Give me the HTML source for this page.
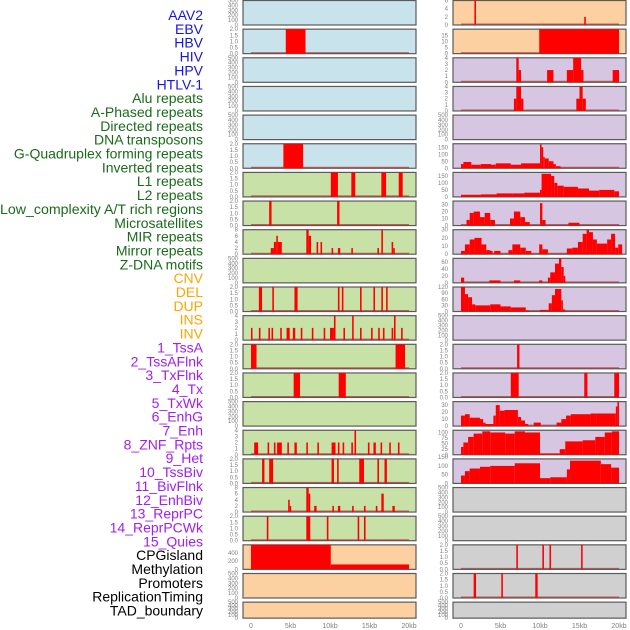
<!DOCTYPE html>
<html><head><meta charset="utf-8"><style>
html,body{margin:0;padding:0;background:#fff;width:630px;height:630px;overflow:hidden}
svg{display:block;font-family:"Liberation Sans",sans-serif}
</style></head><body>
<svg id="chart" width="630" height="630" viewBox="0 0 630 630"></svg>
<script>
const labels=["AAV2","EBV","HBV","HIV","HPV","HTLV-1","Alu repeats","A-Phased repeats","Directed repeats","DNA transposons","G-Quadruplex forming repeats","Inverted repeats","L1 repeats","L2 repeats","Low_complexity A/T rich regions","Microsatellites","MIR repeats","Mirror repeats","Z-DNA motifs","CNV","DEL","DUP","INS","INV","1_TssA","2_TssAFlnk","3_TxFlnk","4_Tx","5_TxWk","6_EnhG","7_Enh","8_ZNF_Rpts","9_Het","10_TssBiv","11_BivFlnk","12_EnhBiv","13_ReprPC","14_ReprPCWk","15_Quies","CPGisland","Methylation","Promoters","ReplicationTiming","TAD_boundary"];
const labelGroups=[6,13,5,15,5];
const groupColors=["#1515e6","#1a6b1a","#ffa500","#a020f0","#000000"];
const xTicks=[0,5000,10000,15000,20000];
const xTickLabels=["0","5kb","10kb","15kb","20kb"];
const leftMax=[500,2,500,500,500,2,2,2,8,500,2,4,2,2,500,4,2,8,2,600,500,500];
const rightMax=[6,20,4,4,500,175,175,35,30,70,120,500,2,2,35,110,140,500,500,2,2,500];
const leftBars=[
[],[[4.4,6.9,2]],[],[],[],[[4.1,6.6,2]],
[[10.1,11.0,2],[12.7,13.2,2],[16.5,17.1,2],[18.7,19.2,2]],
[[2.3,2.6,2],[10.9,11.2,2]],
[[2.5,2.9,2],[2.9,3.2,4],[3.2,3.4,6],[3.4,3.9,4],[7.0,7.3,8],[7.3,7.6,6],[8.3,8.5,4],[8.8,9.0,4],[10.2,10.4,2],[11.0,11.3,2],[12.7,12.9,2],[16.0,16.2,2],[16.5,16.7,8],[17.8,18.0,4],[18.0,18.2,2]],
[],
[[1.0,1.4,2],[2.7,2.9,2],[5.5,5.9,2],[11.0,11.2,2],[11.5,11.7,2],[13.8,14.0,2],[15.5,15.7,2],[16.5,16.7,2],[17.1,17.3,2]],
[[0,0.1,2],[1.0,1.2,2],[2.2,2.4,2],[2.6,2.8,2],[3.7,3.9,2],[4.5,4.9,2],[5.3,5.6,2],[6.3,6.5,2],[7.7,7.9,2],[9.2,9.4,2],[10.0,10.5,2],[10.5,10.7,4],[11.7,11.9,2],[12.8,13.0,4],[13.8,14.0,2],[15.2,15.4,2],[16.1,16.3,2],[16.7,16.9,2],[17.8,18.0,2],[18.1,18.3,4],[19.0,19.2,2]],
[[0,0.7,2],[18.3,19.5,2]],
[[5.4,6.2,2],[11.1,12.0,2]],
[],
[[0.4,0.9,2],[2.1,2.3,2],[2.9,3.1,2],[3.3,3.9,2],[4.6,4.8,2],[5.5,5.8,2],[7.0,7.2,2],[8.4,8.6,2],[10.2,10.7,2],[11.0,11.2,2],[11.6,11.8,2],[12.7,12.9,2],[13.1,13.3,4],[14.8,15.0,2],[15.5,15.8,2],[16.4,16.6,2],[17.5,17.7,2],[18.6,18.8,2]],
[[1.4,1.7,2],[2.3,2.8,2],[10.2,10.5,2],[10.9,11.1,2],[13.7,14.3,2],[16.0,16.2,2],[16.9,17.2,2]],
[[4.7,4.9,4],[4.9,5.0,2],[7.0,7.3,8],[7.3,7.5,6],[8.0,8.3,2],[10.3,10.5,2],[11.0,11.3,2],[12.8,13.0,2],[14.3,14.5,2],[15.8,16.0,2],[16.5,16.8,6],[17.9,18.2,2]],
[[2.0,2.2,2],[7.0,7.5,2],[9.6,9.8,2],[13.5,13.7,2],[14.3,14.5,2]],
[[0,10.1,600],[10.1,20,120]],
[],[]
];
const rightBars=[
[[1.7,1.9,6],[15.6,15.8,2]],
[[9.9,20,20]],
[[7.0,7.3,4],[7.3,7.6,2],[10.9,11.7,2],[13.4,14.2,2],[14.2,15.2,4],[15.2,15.5,2],[19.2,20,2]],
[[6.7,7.0,2],[7.0,7.6,4],[7.6,7.9,2],[14.6,15.0,2],[15.0,15.4,4],[15.4,15.8,2]],
[],
[[0,0.3,30],[0.3,1.3,45],[1.3,2.5,25],[2.5,3.8,30],[3.8,4.4,25],[4.4,6.3,35],[6.3,7.6,25],[7.6,10.0,35],[10.0,10.2,170],[10.2,10.4,150],[10.4,10.6,80],[10.6,11.1,70],[11.1,11.7,50],[11.7,12.0,30],[12.0,12.6,15]],
[[0,2.5,15],[2.5,4.5,18],[4.5,6.5,25],[6.5,8,25],[8,10,30],[10,10.2,50],[10.2,11.4,165],[11.4,11.8,150],[11.8,12.2,100],[12.2,13.0,80],[13.0,14.8,72],[14.8,16.2,60],[16.2,17.5,45],[17.5,19.4,50],[19.4,20,40]],
[[0.7,1.1,8],[1.1,1.6,18],[1.6,2.4,20],[2.4,3.0,12],[3.0,3.7,18],[3.7,4.3,8],[6.2,6.7,10],[6.7,7.5,20],[7.5,8.1,12],[8.1,8.7,5],[10.0,10.3,32],[10.3,10.7,8],[13.6,15.0,4]],
[[0,0.5,4],[0.5,1.1,12],[1.1,1.7,18],[1.7,2.6,20],[2.6,3.2,12],[3.2,3.7,5],[3.6,4.0,4],[4.2,5.0,4],[6.0,6.5,5],[6.5,7.5,12],[7.5,8.2,8],[8.2,8.9,4],[9.9,10.3,12],[10.3,11.0,6],[13.4,14.1,7],[14.1,14.8,8],[14.8,15.4,15],[15.4,15.9,25],[15.9,16.2,30],[16.2,16.7,27],[16.7,17.2,18],[17.2,18.5,13],[18.5,19.0,18],[19.0,19.5,25],[19.5,19.9,8],[19.9,20.4,12]],
[[0,0.4,15],[3.6,5.0,7],[6.7,7.5,7],[9.9,10.3,7],[11.0,11.3,15],[11.3,11.9,30],[11.9,12.4,55],[12.4,12.7,70],[12.7,13.0,45],[13.0,13.2,20]],
[[0,0.5,120],[0.5,0.9,85],[0.9,1.4,70],[1.4,1.8,35],[1.8,3.7,30],[3.7,5.0,35],[5.0,6.3,25],[6.3,8.2,20],[8.2,8.6,5],[10.0,11.1,8],[11.1,11.5,40],[11.5,11.9,80],[11.9,12.7,110],[12.7,12.9,55],[12.9,13.2,10]],
[],
[[7.1,7.4,2]],
[[6.3,7.3,2],[15.6,16.0,2],[19.4,20,2]],
[[0,0.5,15],[0.5,1.1,17],[1.1,2.4,12],[2.4,2.8,10],[2.8,3.1,5],[3.1,4.1,3],[4.1,4.4,15],[4.4,4.9,30],[4.9,5.5,22],[5.5,7.2,23],[7.2,7.6,13],[7.6,8.1,8],[8.1,8.5,3],[9.2,10.1,5],[12.1,12.7,5],[12.7,13.3,10],[13.3,13.9,15],[13.9,16.4,17],[16.4,17.1,18],[17.1,19.6,18],[19.6,19.8,28],[19.8,20,35]],
[[0,0.3,35],[0.3,0.9,55],[0.9,1.6,80],[1.6,2.7,95],[2.7,3.7,105],[3.7,5.6,100],[5.6,6.8,95],[6.8,8.1,105],[8.1,10.0,100],[10.0,12.5,5],[12.5,13.2,25],[13.2,15.4,60],[15.4,17.0,65],[17.0,18.2,80],[18.2,19.1,100],[19.1,20,105]],
[[0,0.5,45],[0.5,1.1,70],[1.1,2.4,85],[2.4,3.7,95],[3.7,6.8,100],[6.8,8.1,115],[8.1,10.0,115],[10.0,11.3,30],[11.3,13.4,35],[13.4,13.8,80],[13.8,17.7,130],[17.7,19.0,110],[19.0,20,90]],
[],[],
[[7.0,7.2,2],[10.3,10.5,2],[11.2,11.4,2],[15.2,15.4,2]],
[[1.6,1.9,2],[5.1,5.3,2],[9.4,9.7,2]],
[]
];
const leftBg=["#c9e3ec","#c9e3ec","#c9e3ec","#c9e3ec","#c9e3ec","#c9e3ec","#c8e1a6","#c8e1a6","#c8e1a6","#c8e1a6","#c8e1a6","#c8e1a6","#c8e1a6","#c8e1a6","#c8e1a6","#c8e1a6","#c8e1a6","#c8e1a6","#c8e1a6","#fdd0a2","#fdd0a2","#fdd0a2"];
const rightBg=["#fdd0a2","#fdd0a2","#d6c6e2","#d6c6e2","#d6c6e2","#d6c6e2","#d6c6e2","#d6c6e2","#d6c6e2","#d6c6e2","#d6c6e2","#d6c6e2","#d6c6e2","#d6c6e2","#d6c6e2","#d6c6e2","#d6c6e2","#d0d0d0","#d0d0d0","#d0d0d0","#d0d0d0","#d0d0d0"];

const NS="http://www.w3.org/2000/svg";
const svg=document.getElementById('chart');
function mk(tag,attrs,parent){const e=document.createElementNS(NS,tag);for(const k in attrs)e.setAttribute(k,attrs[k]);(parent||svg).appendChild(e);return e;}

// labels
let li=0;
labelGroups.forEach((n,g)=>{for(let j=0;j<n;j++){const t=mk('text',{x:203,y:15+li*13.85+5,'text-anchor':'end','font-size':'14',fill:groupColors[g]});


if(labels[li].length>28){t.setAttribute('textLength','203');t.setAttribute('lengthAdjust','spacingAndGlyphs');}
t.textContent=labels[li];li++;}});

const cols=[{x0:243,x1:416,z0:251,z20:409,max:leftMax,bars:leftBars,bg:leftBg,tx:238},{x0:453,x1:626,z0:461,z20:619,max:rightMax,bars:rightBars,bg:rightBg,tx:448}];
function tickVals(m){
 if(m===2)return [0,0.5,1,1.5,2];
 if(m===4)return [0,1,2,3,4];
 if(m===6)return [0,2,4,6];
 if(m===8)return [0,2,4,6,8];
 if(m===20)return [0,5,10,15];
 if(m===30||m===35)return [0,10,20,30];
 if(m===70)return [0,20,40,60];
 if(m===120)return [0,30,60,90,120];
 if(m===110)return [0,25,50,75,100];
 if(m===140||m===175)return [0,50,100,150];
 if(m===600)return [0,200,400];
 return [0,100,200,300,400,500];
}
function fmt(v,m){return m===2?v.toFixed(1):String(v);}
for(let r=0;r<22;r++){
 const top=r*28.65+0.5, h=(r===21?16:24.5);
 cols.forEach((c,ci)=>{
  const g=mk('g',{});
  
  
  mk('rect',{x:c.x0,y:top,width:c.x1-c.x0,height:h,fill:c.bg[r],stroke:'#5a5a5a','stroke-width':1.2},g);
  const m=c.max[r];
  const sy=v=>top+h-v/m*h;
  const sx=kb=>c.z0+kb*1000/20000*(c.z20-c.z0);
  const bars=c.bars[r];
  if(bars.length){
   mk('line',{x1:sx(0),x2:sx(20),y1:top+h-0.8,y2:top+h-0.8,stroke:'#b03030','stroke-width':1.4,opacity:0.7},g);
  }
  bars.forEach(b=>{
   const x=sx(b[0]),w=Math.max(sx(b[1])-x,1.5),y=sy(Math.min(b[2],m));
   const rc=mk('rect',{x:x,y:y,width:w,height:top+h-y,fill:'#ff0000'},g);
   
   
  });
  tickVals(m).forEach(v=>{
   const t=mk('text',{x:c.tx,y:sy(v)+2,'text-anchor':'end','font-size':'6',fill:'#808080'},g);
   
   
   t.textContent=fmt(v,m);
  });
 });
}
cols.forEach(c=>{
 xTicks.forEach((v,i)=>{
  const x=c.z0+v/20000*(c.z20-c.z0);
  const t=mk('text',{x:x,y:628,'text-anchor':'middle','font-size':'7',fill:'#808080'});
  
  
  t.textContent=xTickLabels[i];
 });
});
</script>
</body></html>
